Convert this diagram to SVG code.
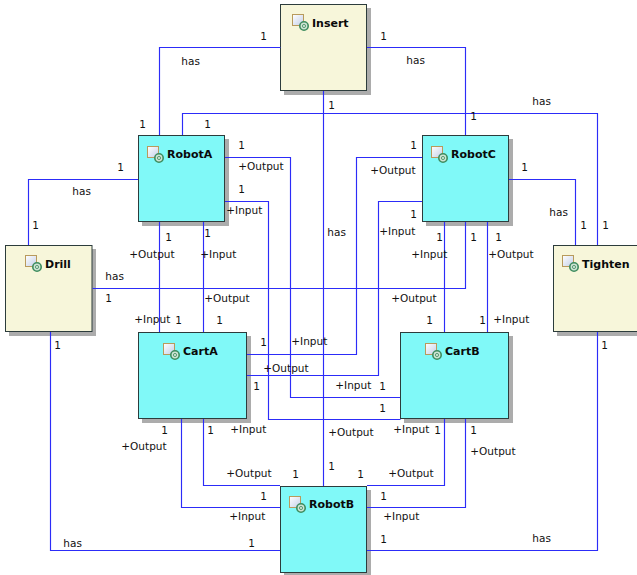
<svg xmlns="http://www.w3.org/2000/svg" xmlns:xlink="http://www.w3.org/1999/xlink" width="637" height="575" viewBox="0 0 637 575">
<style>
.bg{fill:#fff}
.shadow{fill:#acacac}
.box{stroke:#2c3c3c;stroke-width:1}
.part{fill:#80f9f8}
.task{fill:#f7f6da}
.conn path{fill:none;stroke:#2c2cf8;stroke-width:1.15}
text{font-family:"DejaVu Sans","Liberation Sans",sans-serif;font-size:10.5px;fill:#111}
.title{font-weight:bold;font-size:11px;fill:#0a0a0a}
</style>
<defs>
<linearGradient id="ig" x1="0" y1="0" x2="1" y2="1"><stop offset="0" stop-color="#ffffff"/><stop offset="1" stop-color="#c4cfe8"/></linearGradient>
<g id="icon">
<rect x="0.5" y="0.5" width="11" height="11" fill="url(#ig)" stroke="#b89a5c"/>
<circle cx="12" cy="12" r="4.2" fill="#cfe3d4" stroke="#3d8c5e" stroke-width="1.6"/>
<circle cx="12" cy="12" r="1.6" fill="none" stroke="#3d8c5e" stroke-width="0.8"/>
</g>
</defs>
<rect class="bg" width="637" height="575"/>
<g id="node-insert">
<rect class="shadow" x="284" y="8" width="87" height="87"/>
<rect class="box task" x="280.5" y="4.5" width="86" height="86"/>
<use xlink:href="#icon" href="#icon" x="292" y="14"/>
<text class="title" x="312" y="27">Insert</text>
</g>
<g id="node-robota">
<rect class="shadow" x="142" y="139" width="87" height="87"/>
<rect class="box part" x="138.5" y="135.5" width="86" height="86"/>
<use xlink:href="#icon" href="#icon" x="147" y="146"/>
<text class="title" x="167" y="158">RobotA</text>
</g>
<g id="node-robotc">
<rect class="shadow" x="426" y="139" width="87" height="87"/>
<rect class="box part" x="422.5" y="135.5" width="86" height="86"/>
<use xlink:href="#icon" href="#icon" x="431" y="146"/>
<text class="title" x="451" y="158">RobotC</text>
</g>
<g id="node-drill">
<rect class="shadow" x="9" y="249" width="87" height="87"/>
<rect class="box task" x="5.5" y="245.5" width="86.500" height="86"/>
<use xlink:href="#icon" href="#icon" x="25" y="255"/>
<text class="title" x="45" y="268">Drill</text>
</g>
<g id="node-tighten">
<rect class="shadow" x="557" y="249" width="87" height="87"/>
<rect class="box task" x="553.5" y="245.5" width="86" height="86"/>
<use xlink:href="#icon" href="#icon" x="562" y="255"/>
<text class="title" x="582" y="268">Tighten</text>
</g>
<g id="node-carta">
<rect class="shadow" x="142" y="336" width="109" height="87"/>
<rect class="box part" x="138.5" y="332.5" width="108" height="86"/>
<use xlink:href="#icon" href="#icon" x="163" y="343"/>
<text class="title" x="183" y="355">CartA</text>
</g>
<g id="node-cartb">
<rect class="shadow" x="404" y="336" width="109" height="87"/>
<rect class="box part" x="400.5" y="332.5" width="108" height="86"/>
<use xlink:href="#icon" href="#icon" x="425" y="343"/>
<text class="title" x="445" y="355">CartB</text>
</g>
<g id="node-robotb">
<rect class="shadow" x="284" y="490" width="87" height="87"/>
<rect class="box part" x="280.5" y="486.5" width="86" height="86"/>
<use xlink:href="#icon" href="#icon" x="289" y="496"/>
<text class="title" x="309" y="508">RobotB</text>
</g>
<g id="connectors" class="conn">
<path d="M280.5 47.5H159.5V135"/>
<path d="M367 47.5H465.500V135"/>
<path d="M323.5 91V486"/>
<path d="M182.5 135V113.5H597.5V245"/>
<path d="M138 179.500H28.500V245"/>
<path d="M509 179.500H575.500V245"/>
<path d="M92.500 288.500H465.500V222"/>
<path d="M225 157.500H290.500V397.500H400"/>
<path d="M225 201.500H268.500V419.500H400.500"/>
<path d="M159.500 222V332"/>
<path d="M203.500 222V332"/>
<path d="M422 157.500H356.500V354.500H247"/>
<path d="M422 201.500H378.500V375.500H247"/>
<path d="M444.500 222V332"/>
<path d="M487.500 222V332"/>
<path d="M181.500 419V507.500H280"/>
<path d="M203.500 419V485.500H280"/>
<path d="M444.500 419V485.500H367"/>
<path d="M465.500 419V507.500H367"/>
<path d="M50.500 332V550.500H280"/>
<path d="M597.500 332V550.500H367"/>
</g>
<g id="labels" transform="translate(-0.7 0)">
<text x="261" y="40">1</text><text x="182" y="65">has</text><text x="140" y="128">1</text><text x="205" y="128">1</text>
<text x="239" y="149">1</text><text x="239" y="170">+Output</text><text x="239" y="193">1</text><text x="227" y="214">+Input</text>
<text x="118" y="171">1</text><text x="73" y="195">has</text><text x="33" y="229">1</text><text x="166" y="241">1</text><text x="205" y="237">1</text>
<text x="130" y="258">+Output</text><text x="201" y="258">+Input</text><text x="106" y="280">has</text>
<text x="381" y="40">1</text><text x="407" y="64">has</text><text x="329" y="109">1</text><text x="533" y="105">has</text><text x="471" y="120">1</text>
<text x="411" y="149">1</text><text x="371" y="174">+Output</text><text x="411" y="218">1</text><text x="380" y="235">+Input</text>
<text x="522" y="171">1</text><text x="550" y="216">has</text><text x="581" y="229">1</text><text x="603" y="229">1</text>
<text x="437" y="241">1</text><text x="471" y="241">1</text><text x="496" y="241">1</text>
<text x="412" y="258">+Input</text><text x="489" y="258">+Output</text><text x="328" y="236">has</text>
<text x="106" y="302">1</text><text x="205" y="302">+Output</text><text x="135" y="323">+Input</text><text x="176" y="324">1</text><text x="217" y="324">1</text>
<text x="261" y="346">1</text><text x="292" y="345">+Input</text><text x="264" y="372">+Output</text><text x="254" y="390">1</text><text x="55" y="349">1</text>
<text x="162" y="434">1</text><text x="208" y="434">1</text><text x="231" y="433">+Input</text><text x="122" y="450">+Output</text>
<text x="227" y="477">+Output</text><text x="293" y="478">1</text><text x="261" y="500">1</text><text x="230" y="520">+Input</text><text x="64" y="547">has</text><text x="249" y="547">1</text>
<text x="392" y="302">+Output</text><text x="427" y="324">1</text><text x="480" y="324">1</text><text x="494" y="323">+Input</text>
<text x="336" y="389">+Input</text><text x="380" y="390">1</text><text x="380" y="412">1</text><text x="329" y="436">+Output</text>
<text x="394" y="433">+Input</text><text x="435" y="434">1</text><text x="471" y="434">1</text><text x="471" y="455">+Output</text>
<text x="329" y="470">1</text><text x="358" y="478">1</text><text x="389" y="477">+Output</text><text x="381" y="500">1</text><text x="384" y="520">+Input</text>
<text x="381" y="543">1</text><text x="533" y="542">has</text><text x="602" y="349">1</text>
</g>
</svg>
